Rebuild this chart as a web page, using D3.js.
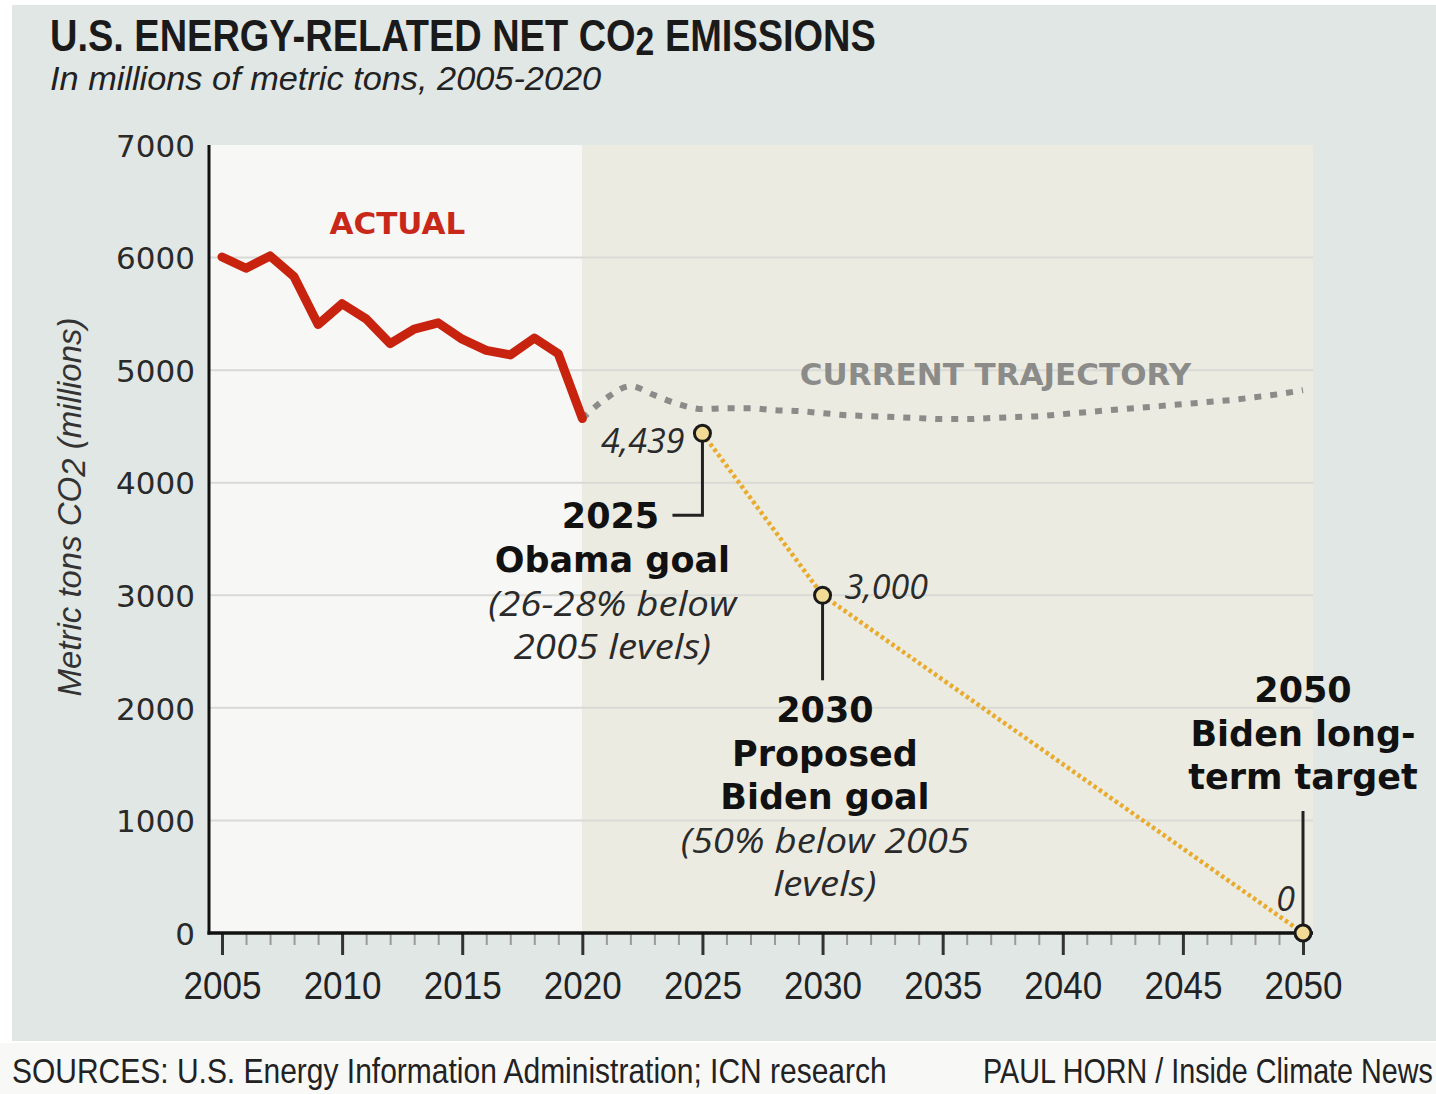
<!DOCTYPE html>
<html>
<head>
<meta charset="utf-8">
<script src="https://cdn.jsdelivr.net/npm/d3@7"></script>
<style>
  html, body { margin: 0; padding: 0; background: #ffffff; }
  svg { display: block; }
</style>
</head>
<body>
<svg id="chart" width="1436" height="1094"></svg>
<script>
// Energy-related net CO2 emissions, millions of metric tons
const actualYears = [2005, 2006, 2007, 2008, 2009, 2010, 2011, 2012, 2013, 2014, 2015, 2016, 2017, 2018, 2019, 2020];
const actualValues = [6005, 5905, 6015, 5830, 5405, 5590, 5455, 5235, 5365, 5420, 5275, 5175, 5135, 5285, 5145, 4570];

const trajectoryYears = d3.range(2020, 2051);
const trajectoryValues = [4570, 4751, 4858, 4778, 4698, 4654, 4662, 4662, 4645, 4636,
                          4618, 4600, 4591, 4583, 4574, 4565, 4565, 4574, 4583, 4591,
                          4609, 4627, 4645, 4662, 4680, 4698, 4716, 4734, 4760, 4787, 4822];

const goalYears = [2025, 2030, 2050];
const goalValues = [4439, 3000, 0];
const goalLabels = ["4,439", "3,000", "0"];

const yTicks = [0, 1000, 2000, 3000, 4000, 5000, 6000, 7000];
const xMajorTicks = [2005, 2010, 2015, 2020, 2025, 2030, 2035, 2040, 2045, 2050];
const xMinorTicks = d3.range(2005, 2051);

const svg = d3.select("#chart");
const W = 1436, H = 1094;

const x = d3.scaleLinear().domain([2005, 2050]).range([222, 1303]);
const y = d3.scaleLinear().domain([0, 7000]).range([933, 145]);

const plotLeft = 209, plotRight = 1313;
const sans = "'Liberation Sans', Arial, sans-serif";
const humanist = "'Open Sans', 'Noto Sans', sans-serif";
const heavy = "'DejaVu Sans', Verdana, sans-serif";

// squeeze or stretch a text horizontally about anchorX so it spans the given width
function fitWidth(sel, width, anchorX) {
  const w = sel.node().getBBox().width;
  const k = width / w;
  sel.attr("transform", `translate(${anchorX},0) scale(${k},1) translate(${-anchorX},0)`);
  return sel;
}

// page background and footer band
svg.append("rect").attr("x", 0).attr("y", 0).attr("width", W).attr("height", H).attr("fill", "#ffffff");
svg.append("rect").attr("x", 12).attr("y", 5).attr("width", W - 12).attr("height", 1036).attr("fill", "#e1e7e4");
svg.append("rect").attr("x", 0).attr("y", 1043).attr("width", W).attr("height", 51).attr("fill", "#f8f8f7");

// plot panels: historical (white) and projected (beige)
svg.append("rect")
  .attr("x", plotLeft).attr("y", y(7000))
  .attr("width", x(2020) - plotLeft).attr("height", y(0) - y(7000))
  .attr("fill", "#f7f7f6");
svg.append("rect")
  .attr("x", x(2020)).attr("y", y(7000))
  .attr("width", plotRight - x(2020)).attr("height", y(0) - y(7000))
  .attr("fill", "#ecebe1");

// horizontal gridlines
svg.append("g").selectAll("line")
  .data(yTicks.filter(d => d > 0 && d < 7000))
  .join("line")
  .attr("x1", plotLeft).attr("x2", plotRight)
  .attr("y1", d => y(d)).attr("y2", d => y(d))
  .attr("stroke", "#d9dad6").attr("stroke-width", 2);

// title block
const title = svg.append("text")
  .attr("x", 50).attr("y", 51)
  .attr("font-family", sans).attr("font-weight", "bold")
  .attr("font-size", 45).attr("fill", "#1a1a1a");
title.append("tspan").text("U.S. ENERGY-RELATED NET CO");
title.append("tspan").attr("font-size", 40).attr("dy", 4).text("2");
title.append("tspan").attr("dy", -4).text(" EMISSIONS");
fitWidth(title, 826, 50);

const subtitle = svg.append("text")
  .attr("x", 50).attr("y", 90)
  .attr("font-family", sans).attr("font-style", "italic")
  .attr("font-size", 33).attr("fill", "#222")
  .text("In millions of metric tons, 2005-2020");
fitWidth(subtitle, 552, 50);

// y axis title
const yTitleG = svg.append("g").attr("transform", `translate(81, 507) rotate(-90)`);
const yTitle = yTitleG.append("text")
  .attr("x", 0).attr("y", 0)
  .attr("text-anchor", "middle")
  .attr("font-family", sans).attr("font-style", "italic")
  .attr("font-size", 34).attr("fill", "#333");
yTitle.append("tspan").text("Metric tons CO");
yTitle.append("tspan").attr("dy", 4).text("2");
yTitle.append("tspan").attr("dy", -4).text(" (millions)");
fitWidth(yTitle, 379, 0);

// y axis
const yAxis = svg.append("g")
  .attr("transform", `translate(${plotLeft},0)`)
  .call(d3.axisLeft(y).tickValues(yTicks).tickSize(0).tickPadding(14).tickFormat(d3.format("d")));
yAxis.select(".domain").remove();
yAxis.selectAll("text")
  .attr("font-family", heavy).attr("font-size", 31).attr("fill", "#2a2a2a")
  .attr("dy", "0.36em");
svg.append("line")
  .attr("x1", plotLeft).attr("x2", plotLeft)
  .attr("y1", y(7000)).attr("y2", y(0) + 1.5)
  .attr("stroke", "#111").attr("stroke-width", 3);

// x axis: minor then major ticks
const xMinor = svg.append("g")
  .attr("transform", `translate(0,${y(0)})`)
  .call(d3.axisBottom(x).tickValues(xMinorTicks).tickSize(12).tickFormat(""));
xMinor.select(".domain").remove();
xMinor.selectAll("line").attr("stroke", "#9a9a9a").attr("stroke-width", 2);

const xMajor = svg.append("g")
  .attr("transform", `translate(0,${y(0)})`)
  .call(d3.axisBottom(x).tickValues(xMajorTicks).tickSize(22).tickPadding(16).tickFormat(d3.format("d")));
xMajor.select(".domain").remove();
xMajor.selectAll("line").attr("stroke", "#333").attr("stroke-width", 3);
xMajor.selectAll("text")
  .attr("font-family", sans).attr("font-size", 39).attr("fill", "#222")
  .each(function () { fitWidth(d3.select(this), 78, 0); });

svg.append("line")
  .attr("x1", plotLeft - 1.5).attr("x2", plotRight)
  .attr("y1", y(0)).attr("y2", y(0))
  .attr("stroke", "#111").attr("stroke-width", 3.5);

// current trajectory projection
const line = d3.line().x(d => x(d[0])).y(d => y(d[1])).curve(d3.curveMonotoneX);
svg.append("path")
  .datum(d3.zip(trajectoryYears, trajectoryValues))
  .attr("d", line)
  .attr("fill", "none").attr("stroke", "#8b8b89")
  .attr("stroke-width", 6).attr("stroke-dasharray", "7,9");

// goal pathway
const goalLine = d3.line().x(d => x(d[0])).y(d => y(d[1]));
svg.append("path")
  .datum(d3.zip(goalYears, goalValues))
  .attr("d", goalLine)
  .attr("fill", "none").attr("stroke", "#e8ab2e")
  .attr("stroke-width", 4.5).attr("stroke-dasharray", "3.5,3");

// actual emissions
svg.append("path")
  .datum(d3.zip(actualYears, actualValues))
  .attr("d", d3.line().x(d => x(d[0])).y(d => y(d[1])))
  .attr("fill", "none").attr("stroke", "#c8230f")
  .attr("stroke-width", 9).attr("stroke-linejoin", "round").attr("stroke-linecap", "round");

// series labels
svg.append("text")
  .attr("x", x(2012.3)).attr("y", y(6000) - 24)
  .attr("text-anchor", "middle")
  .attr("font-family", heavy).attr("font-weight", "bold")
  .attr("font-size", 31).attr("fill", "#c8281a")
  .text("ACTUAL");
svg.append("text")
  .attr("x", x(2037.2)).attr("y", y(5000) + 15)
  .attr("text-anchor", "middle")
  .attr("font-family", heavy).attr("font-weight", "bold")
  .attr("font-size", 31).attr("fill", "#8b8b89")
  .text("CURRENT TRAJECTORY");

// leader lines for goal annotations
const leaderStyle = sel => sel.attr("fill", "none").attr("stroke", "#222").attr("stroke-width", 3);
svg.append("path").call(leaderStyle)
  .attr("d", `M${x(2025)},${y(4439) + 8} V${y(4439) + 82} H${x(2025) - 30}`);
svg.append("path").call(leaderStyle)
  .attr("d", `M${x(2030)},${y(3000) + 8} V${y(3000) + 85}`);
svg.append("path").call(leaderStyle)
  .attr("d", `M${x(2050)},${y(0)} V${y(0) - 122}`);

// goal markers
svg.append("g").selectAll("circle")
  .data(d3.zip(goalYears, goalValues))
  .join("circle")
  .attr("cx", d => x(d[0])).attr("cy", d => y(d[1]))
  .attr("r", 8)
  .attr("fill", "#f2dc95").attr("stroke", "#1a1a1a").attr("stroke-width", 3);

// value labels on markers
const valueLabel = (txt, px, py, anchor) => svg.append("text")
  .attr("x", px).attr("y", py).attr("text-anchor", anchor)
  .attr("font-family", humanist).attr("font-style", "italic")
  .attr("font-size", 34).attr("fill", "#2a2a2a").text(txt);
valueLabel(goalLabels[0], x(2025) - 18, y(goalValues[0]) + 20, "end");
valueLabel(goalLabels[1], x(2030) + 22, y(goalValues[1]) + 4, "start");
valueLabel(goalLabels[2], x(2050) - 8, y(goalValues[2]) - 22, "end");

// multi-line annotation blocks: bold headline lines, italic detail lines (slightly widened)
function block(cx, top, lines) {
  lines.forEach((l, i) => {
    const t = svg.append("text")
      .attr("x", cx).attr("y", top + i * 43.5)
      .attr("text-anchor", "middle")
      .attr("font-family", l.bold ? heavy : humanist)
      .attr("font-weight", l.bold ? "bold" : "normal")
      .attr("font-style", l.bold ? "normal" : "italic")
      .attr("font-size", l.bold ? 35 : 34)
      .attr("fill", l.bold ? "#111" : "#2a2a2a")
      .text(l.text);
    if (!l.bold) {
      const w = t.node().getBBox().width;
      fitWidth(t, w * 1.13, cx);
    }
  });
}

svg.append("text")
  .attr("x", x(2023.2)).attr("y", y(4439) + 95)
  .attr("text-anchor", "end")
  .attr("font-family", heavy).attr("font-weight", "bold")
  .attr("font-size", 35).attr("fill", "#111")
  .text("2025");
block(x(2021.25), y(4439) + 139, [
  { text: "Obama goal", bold: true },
  { text: "(26-28% below", bold: false },
  { text: "2005 levels)", bold: false }
]);
block(x(2030.1), y(3000) + 127, [
  { text: "2030", bold: true },
  { text: "Proposed", bold: true },
  { text: "Biden goal", bold: true },
  { text: "(50% below 2005", bold: false },
  { text: "levels)", bold: false }
]);
block(x(2050), y(0) - 231, [
  { text: "2050", bold: true },
  { text: "Biden long-", bold: true },
  { text: "term target", bold: true }
]);

// footer credits
const sources = svg.append("text")
  .attr("x", 12).attr("y", 1083)
  .attr("font-family", sans).attr("font-size", 35).attr("fill", "#222")
  .text("SOURCES: U.S. Energy Information Administration; ICN research");
fitWidth(sources, 875, 12);
const credit = svg.append("text")
  .attr("x", 983).attr("y", 1083)
  .attr("font-family", sans).attr("font-size", 35).attr("fill", "#222")
  .text("PAUL HORN / Inside Climate News");
fitWidth(credit, 450, 983);
</script>
</body>
</html>
